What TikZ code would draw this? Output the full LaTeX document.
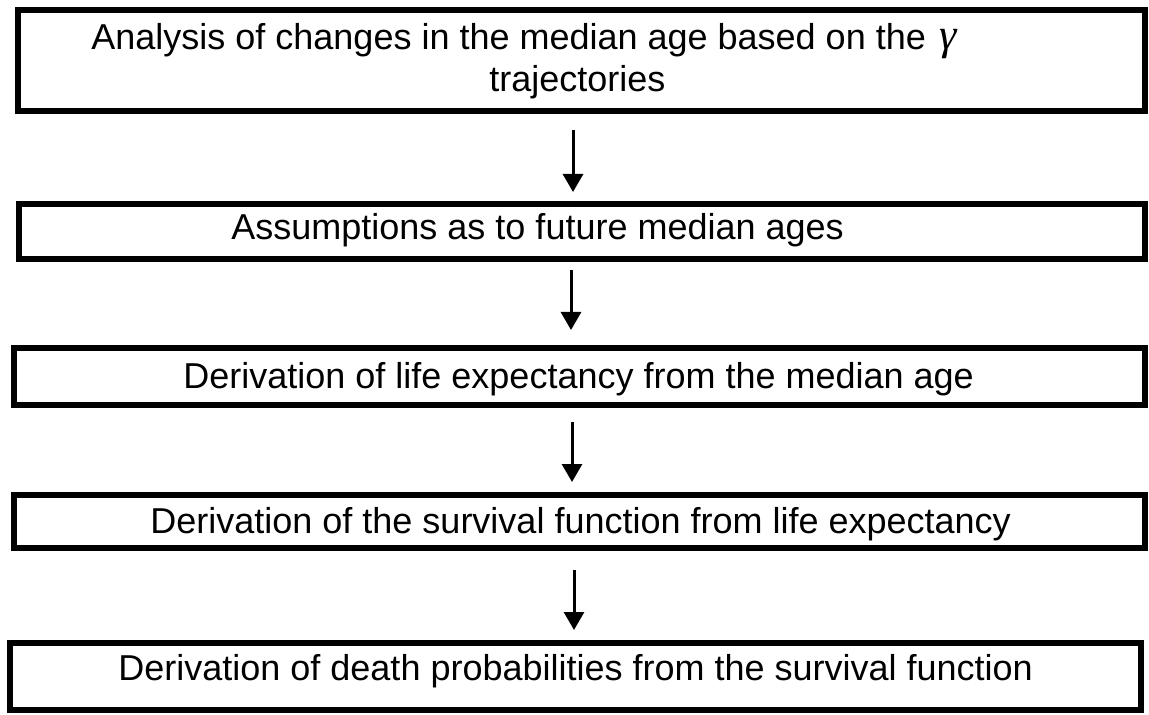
\documentclass[tikz,border=0pt]{standalone}
\usepackage{fontspec}
\setmainfont{Liberation Sans}
\newfontfamily\gamfont{Liberation Serif}
\usetikzlibrary{arrows.meta}
\begin{document}
\begin{tikzpicture}[x=0.5pt,y=-0.5pt,
  box/.style={draw=black, line width=3pt, rectangle, inner sep=0pt, fill=none},
  txt/.style={anchor=base west, inner sep=0pt, font=\fontsize{18}{21.6}\selectfont},
  arr/.style={line width=1.5pt, -{Triangle[length=9pt,width=10pt]}}]
\useasboundingbox (0,0) rectangle (1149,715);
% boxes
\node[box, minimum width=563.75pt, minimum height=50.5pt] (b1) at (581.25,61) {};
\node[box, minimum width=563pt, minimum height=27.5pt] (b2) at (582,231.5) {};
\node[box, minimum width=565.5pt, minimum height=28.5pt] (b3) at (579.5,376.5) {};
\node[box, minimum width=565.5pt, minimum height=26.5pt] (b4) at (579.5,521.5) {};
\node[box, minimum width=565.5pt, minimum height=33.5pt] (b5) at (575.5,676.5) {};
% texts
\node[txt] (t1) at (91,50) {Analysis of changes in the median age based on the\hspace{7pt}{\gamfont\itshape\fontsize{22}{24}\selectfont γ}};
\node[txt] (t1b) at (489,92) {trajectories};
\node[txt] (t2) at (231,240) {Assumptions as to future median ages};
\node[txt] (t3) at (183,388) {Derivation of life expectancy from the median age};
\node[txt] (t4) at (150,533) {Derivation of the survival function from life expectancy};
\node[txt] (t5) at (118,680) {Derivation of death probabilities from the survival function};
% arrow x positions
\coordinate (ax1) at (573,0);
\coordinate (ax2) at (571,0);
\coordinate (ax3) at (572,0);
\coordinate (ax4) at (574,0);
\draw[arr, shorten <=7.75pt, shorten >=4.5pt] (b1.south -| ax1) -- (b2.north -| ax1);
\draw[arr, shorten <=4pt, shorten >=7.5pt] (b2.south -| ax2) -- (b3.north -| ax2);
\draw[arr, shorten <=7pt, shorten >=5pt] (b3.south -| ax3) -- (b4.north -| ax3);
\draw[arr, shorten <=9.5pt, shorten >=5pt] (b4.south -| ax4) -- (b5.north -| ax4);
\end{tikzpicture}
\end{document}
